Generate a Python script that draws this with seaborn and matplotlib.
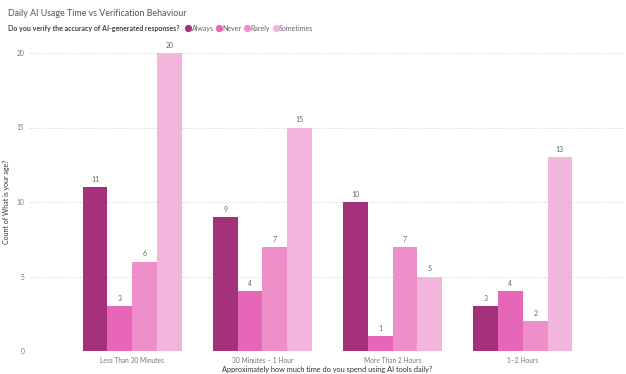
import matplotlib
matplotlib.use("Agg")
import matplotlib.pyplot as plt
import seaborn as sns
import pandas as pd
from matplotlib.lines import Line2D

categories = ["Less Than 30 Minutes", "30 Minutes \u2013 1 Hour", "More Than 2 Hours", "1\u20132 Hours"]
responses = ["Always", "Never", "Rarely", "Sometimes"]
always = [11, 9, 10, 3]
never = [3, 4, 1, 4]
rarely = [6, 7, 7, 2]
sometimes = [20, 15, 5, 13]
colors = ["#A6317B", "#E667B8", "#EE8FCA", "#F4B5DC"]

rows = []
for resp, vals in zip(responses, [always, never, rarely, sometimes]):
    for c, v in zip(categories, vals):
        rows.append({"cat": c, "resp": resp, "count": v})
df = pd.DataFrame(rows)

sns.set_theme(style="white")
plt.rcParams["font.family"] = ["Lato", "DejaVu Sans"]

W, H = 626, 374
fig = plt.figure(figsize=(W/100, H/100), dpi=100)
ax = fig.add_axes([30/W, 1-351/H, 595/W, (351-53)/H])

sns.barplot(data=df, x="cat", y="count", hue="resp", order=categories,
            hue_order=responses, palette=colors, width=0.76, gap=0,
            saturation=1, ax=ax, legend=False, edgecolor="none", linewidth=0)

for cont in ax.containers:
    ax.bar_label(cont, padding=3, fontsize=5.0, color="#666666")

ax.set_ylim(0, 20)
ax.set_xlim(-0.785, 3.785)
ax.set_yticks([0, 5, 10, 15, 20])
ax.yaxis.grid(True, linestyle=(0, (1, 2)), color="#C8C8C8", linewidth=0.7)
ax.set_axisbelow(True)
for s in ax.spines.values():
    s.set_visible(False)
ax.tick_params(axis="both", length=0, labelsize=4.8, labelcolor="#777777", pad=4)
ax.set_xlabel("Approximately how much time do you spend using AI tools daily?",
              fontsize=5.3, color="#333333", labelpad=2)
ax.set_ylabel("Count of What is your age?", fontsize=5.0, color="#333333", labelpad=5)

fig.text(8/W, 1-13/H, "Daily AI Usage Time vs Verification Behaviour",
         fontsize=6.4, color="#555555", va="center", ha="left")
title2 = fig.text(8/W, 1-28/H, "Do you verify the accuracy of AI-generated responses?",
                  fontsize=5.05, color="#444444", fontweight="bold", va="center", ha="left")

# legend entries placed manually, spaced by measured text width
fig.canvas.draw()
renderer = fig.canvas.get_renderer()
x = max(188.0, title2.get_window_extent(renderer).x1 + 5)
for lab, c in zip(responses, colors):
    fig.add_artist(Line2D([x/W], [1-28/H], marker="o", linestyle="none", markersize=4.2,
                          markerfacecolor=c, markeredgecolor=c, transform=fig.transFigure))
    t = fig.text((x+3.5)/W, 1-28/H, lab, fontsize=5.0, color="#666666",
                 va="center_baseline", ha="left")
    w = t.get_window_extent(renderer).width
    x = x + 3.5 + w + 5.5

fig.savefig("out.png", dpi=100)
